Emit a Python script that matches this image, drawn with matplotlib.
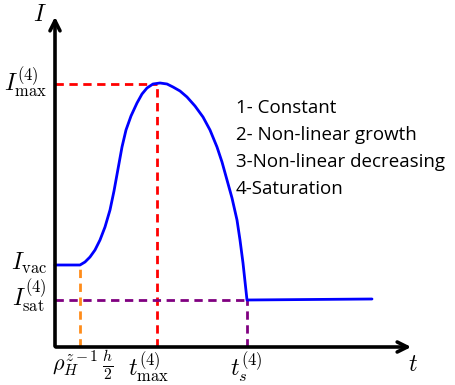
import numpy as np
import matplotlib.pyplot as plt

plt.rcParams['mathtext.fontset'] = 'cm'

# curve of the current I(t)
t_curve = [0, 25, 30, 35, 40, 45, 50, 55, 59, 63, 67, 71, 76, 82, 87, 92, 98, 105,
           112, 118, 125, 132, 140, 148, 155, 162, 167, 172, 177, 182, 185, 188, 192, 317]
i_curve = [82, 82, 85, 90, 97, 107, 120, 137, 156, 178, 200, 217, 231, 244, 253, 259, 263, 264,
           263, 260, 256, 250, 241, 230, 217, 200, 185, 167, 149, 127, 107, 84, 47, 48]

# key levels and times
i_vac = 82
i_sat = 47
i_max = 263
t_h = 25
t_max = 102
t_s = 192

phases = ["1- Constant", "2- Non-linear growth", "3-Non-linear decreasing", "4-Saturation"]

fig = plt.figure(figsize=(4.56, 3.85), dpi=100)
ax = fig.add_axes([0, 0, 1, 1])
ax.set_xlim(-55, 401)
ax.set_ylim(-38, 347)
ax.axis('off')

# axes with arrows
ax.annotate('', xy=(359, 0), xytext=(-2, 0),
            arrowprops=dict(arrowstyle='->', lw=2.6, color='black', mutation_scale=18))
ax.annotate('', xy=(0, 333), xytext=(0, -2),
            arrowprops=dict(arrowstyle='->', lw=2.6, color='black', mutation_scale=18))

# guide lines
dash = (3, 2)
ax.plot([0, t_max], [i_max, i_max], color='red', lw=2, dashes=dash)
ax.plot([t_max, t_max], [0, i_max], color='red', lw=2, dashes=dash)
ax.plot([t_h, t_h], [0, i_vac], color='#ff8c1a', lw=2, dashes=dash)
ax.plot([0, t_s], [i_sat, i_sat], color='purple', lw=2, dashes=dash)
ax.plot([t_s, t_s], [0, i_sat], color='purple', lw=2, dashes=dash)

# current curve
ax.plot(t_curve, i_curve, color='blue', lw=2, solid_joinstyle='round', solid_capstyle='round')

# labels
fs = 17
ax.text(-8, 333, r'$I$', fontsize=fs, ha='right', va='center')
ax.text(-8, i_max + 2, r'$I_{\max}^{(4)}$', fontsize=fs, ha='right', va='center')
ax.text(-8, i_vac + 2, r'$I_{\mathrm{vac}}$', fontsize=fs, ha='right', va='center')
ax.text(-8, i_sat + 4, r'$I_{\mathrm{sat}}^{(4)}$', fontsize=fs, ha='right', va='center')
ax.text(t_h + 3, -18, r'$\rho_H^{z-1}\,\frac{h}{2}$', fontsize=16, ha='center', va='center')
ax.text(t_max - 8, -20, r'$t_{\max}^{(4)}$', fontsize=fs, ha='center', va='center')
ax.text(t_s - 1, -20, r'$t_s^{(4)}$', fontsize=fs, ha='center', va='center')
ax.text(358, -17, r'$t$', fontsize=fs, ha='center', va='center')

for k, s in enumerate(phases):
    ax.text(181, 239 - k * 27, s, fontsize=13.5, family='Open Sans', ha='left', va='center')

fig.savefig('out.png', dpi=100)
